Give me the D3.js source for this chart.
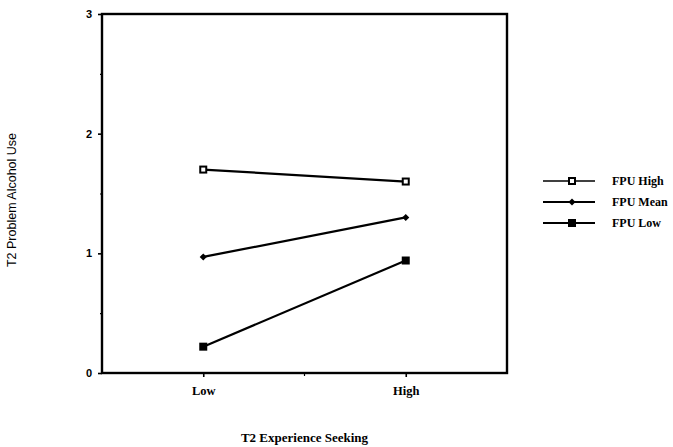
<!DOCTYPE html>
<html>
<head>
    <title>T2 Problem Alcohol Use</title>
    <script src="https://d3js.org/d3.v7.min.js"></script>
    <style>
        body { margin: 0; background: #fff; }
        .serif { font-family: "Liberation Serif", "DejaVu Serif", serif; }
        .sans { font-family: "Liberation Sans", Arial, sans-serif; }
    </style>
</head>
<body>
    <div id="chart"></div>

    <script>
        // data
        const categories = ["Low", "High"];
        const seriesNames = ["FPU High", "FPU Mean", "FPU Low"];
        const fpuHigh = [1.70, 1.60];
        const fpuMean = [0.97, 1.30];
        const fpuLow = [0.22, 0.94];
        const yTicks = [0, 1, 2, 3];
        const yMinorTicks = [0.5, 1.5, 2.5];

        const width = 673;
        const height = 447;
        const plot = { left: 102, right: 507, top: 14, bottom: 373 };

        const svg = d3.select("#chart")
            .append("svg")
            .attr("width", width)
            .attr("height", height);

        const x = d3.scalePoint()
            .domain(categories)
            .range([plot.left, plot.right])
            .padding(0.5);

        const y = d3.scaleLinear()
            .domain([0, 3])
            .range([plot.bottom, plot.top]);

        // frame
        svg.append("rect")
            .attr("x", plot.left)
            .attr("y", plot.top)
            .attr("width", plot.right - plot.left)
            .attr("height", plot.bottom - plot.top)
            .attr("fill", "none")
            .attr("stroke", "#000")
            .attr("stroke-width", 2.4);

        // y axis
        const yAxis = svg.append("g")
            .attr("transform", `translate(${plot.left},0)`)
            .call(d3.axisLeft(y).tickValues(yTicks).tickFormat(d3.format("d")).tickSize(4).tickPadding(6));
        yAxis.select(".domain").remove();
        yAxis.selectAll("line").attr("stroke-width", 1.6);
        yAxis.selectAll("text")
            .attr("class", "sans")
            .style("font-size", "11px")
            .style("font-weight", "bold");

        svg.append("g")
            .attr("transform", `translate(${plot.left},0)`)
            .call(d3.axisLeft(y).tickValues(yMinorTicks).tickFormat("").tickSize(2))
            .call(g => g.select(".domain").remove())
            .selectAll("line").attr("stroke-width", 1.2);

        // x axis
        const xAxis = svg.append("g")
            .attr("transform", `translate(0,${plot.bottom})`)
            .call(d3.axisBottom(x).tickSize(4).tickPadding(9));
        xAxis.select(".domain").remove();
        xAxis.selectAll("line").attr("stroke-width", 1.6);
        xAxis.selectAll("text")
            .attr("class", "serif")
            .style("font-size", "12.5px")
            .style("font-weight", "bold");

        svg.append("line")
            .attr("x1", (plot.left + plot.right) / 2)
            .attr("x2", (plot.left + plot.right) / 2)
            .attr("y1", plot.bottom)
            .attr("y2", plot.bottom + 3)
            .attr("stroke", "#000")
            .attr("stroke-width", 1.2);

        // axis titles
        svg.append("text")
            .attr("class", "serif")
            .attr("x", (plot.left + plot.right) / 2)
            .attr("y", 442)
            .attr("text-anchor", "middle")
            .style("font-size", "13px")
            .style("font-weight", "bold")
            .text("T2 Experience Seeking");

        svg.append("text")
            .attr("class", "sans")
            .attr("transform", "translate(16,200) rotate(-90)")
            .attr("text-anchor", "middle")
            .style("font-size", "12.5px")
            .text("T2 Problem Alcohol Use");

        // series
        const series = [
            { name: seriesNames[0], values: fpuHigh, marker: "openSquare" },
            { name: seriesNames[1], values: fpuMean, marker: "diamond" },
            { name: seriesNames[2], values: fpuLow, marker: "square" }
        ];

        function drawMarker(g, type, cx, cy) {
            if (type === "openSquare") {
                g.append("rect")
                    .attr("x", cx - 3).attr("y", cy - 3)
                    .attr("width", 6).attr("height", 6)
                    .attr("fill", "#fff").attr("stroke", "#000").attr("stroke-width", 2);
            } else if (type === "diamond") {
                g.append("path")
                    .attr("d", d3.symbol().type(d3.symbolDiamond2).size(32)())
                    .attr("transform", `translate(${cx},${cy})`)
                    .attr("fill", "#000");
            } else {
                g.append("rect")
                    .attr("x", cx - 4).attr("y", cy - 4)
                    .attr("width", 8).attr("height", 8)
                    .attr("fill", "#000");
            }
        }

        const line = d3.line()
            .x((d, i) => x(categories[i]))
            .y(d => y(d));

        series.forEach(s => {
            const g = svg.append("g");
            g.append("path")
                .attr("d", line(s.values))
                .attr("fill", "none")
                .attr("stroke", "#000")
                .attr("stroke-width", 2.2);
            s.values.forEach((v, i) => drawMarker(g, s.marker, x(categories[i]), y(v)));
        });

        // legend
        const legend = svg.append("g").attr("transform", "translate(543,181)");
        series.forEach((s, i) => {
            const row = legend.append("g").attr("transform", `translate(0,${i * 21})`);
            row.append("line")
                .attr("x1", 0).attr("x2", 52)
                .attr("stroke", "#000")
                .attr("stroke-width", i === 0 ? 1.6 : 2.2);
            drawMarker(row, s.marker, 29, 0);
            row.append("text")
                .attr("class", "serif")
                .attr("x", 69)
                .attr("y", 4)
                .style("font-size", "12px")
                .style("font-weight", "bold")
                .text(s.name);
        });
    </script>
</body>
</html>
